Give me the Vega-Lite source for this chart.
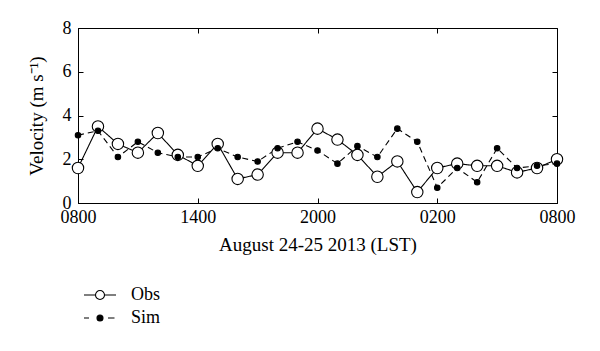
{
  "$schema": "https://vega.github.io/schema/vega-lite/v6.json",
  "autosize": {"type": "none"},
  "padding": {"left": 78, "top": 28, "right": 43, "bottom": 148},
  "width": 479,
  "height": 175,
  "background": "white",
  "config": {
    "view": {"stroke": "black", "strokeWidth": 1},
    "font": "Liberation Serif",
    "axis": {
      "grid": false,
      "domainColor": "black",
      "tickColor": "black",
      "tickSize": -5,
      "labelColor": "black",
      "titleColor": "black",
      "labelFont": "Liberation Serif",
      "titleFont": "Liberation Serif",
      "labelFontSize": 18,
      "titleFontSize": 19,
      "titleFontWeight": "normal"
    },
    "legend": {
      "labelFont": "Liberation Serif",
      "labelFontSize": 18,
      "labelColor": "black"
    }
  },
  "data": {
    "values": [
      {"h": 0, "series": "Obs", "v": 1.6}, {"h": 1, "series": "Obs", "v": 3.5}, {"h": 2, "series": "Obs", "v": 2.7},
      {"h": 3, "series": "Obs", "v": 2.3}, {"h": 4, "series": "Obs", "v": 3.2}, {"h": 5, "series": "Obs", "v": 2.2},
      {"h": 6, "series": "Obs", "v": 1.7}, {"h": 7, "series": "Obs", "v": 2.7}, {"h": 8, "series": "Obs", "v": 1.1},
      {"h": 9, "series": "Obs", "v": 1.3}, {"h": 10, "series": "Obs", "v": 2.3}, {"h": 11, "series": "Obs", "v": 2.3},
      {"h": 12, "series": "Obs", "v": 3.4}, {"h": 13, "series": "Obs", "v": 2.9}, {"h": 14, "series": "Obs", "v": 2.2},
      {"h": 15, "series": "Obs", "v": 1.2}, {"h": 16, "series": "Obs", "v": 1.9}, {"h": 17, "series": "Obs", "v": 0.5},
      {"h": 18, "series": "Obs", "v": 1.6}, {"h": 19, "series": "Obs", "v": 1.8}, {"h": 20, "series": "Obs", "v": 1.7},
      {"h": 21, "series": "Obs", "v": 1.7}, {"h": 22, "series": "Obs", "v": 1.4}, {"h": 23, "series": "Obs", "v": 1.6},
      {"h": 24, "series": "Obs", "v": 2.0},
      {"h": 0, "series": "Sim", "v": 3.1}, {"h": 1, "series": "Sim", "v": 3.3}, {"h": 2, "series": "Sim", "v": 2.1},
      {"h": 3, "series": "Sim", "v": 2.8}, {"h": 4, "series": "Sim", "v": 2.3}, {"h": 5, "series": "Sim", "v": 2.1},
      {"h": 6, "series": "Sim", "v": 2.1}, {"h": 7, "series": "Sim", "v": 2.5}, {"h": 8, "series": "Sim", "v": 2.1},
      {"h": 9, "series": "Sim", "v": 1.9}, {"h": 10, "series": "Sim", "v": 2.5}, {"h": 11, "series": "Sim", "v": 2.8},
      {"h": 12, "series": "Sim", "v": 2.4}, {"h": 13, "series": "Sim", "v": 1.8}, {"h": 14, "series": "Sim", "v": 2.6},
      {"h": 15, "series": "Sim", "v": 2.1}, {"h": 16, "series": "Sim", "v": 3.4}, {"h": 17, "series": "Sim", "v": 2.8},
      {"h": 18, "series": "Sim", "v": 0.7}, {"h": 19, "series": "Sim", "v": 1.6}, {"h": 20, "series": "Sim", "v": 0.95},
      {"h": 21, "series": "Sim", "v": 2.5}, {"h": 22, "series": "Sim", "v": 1.6}, {"h": 23, "series": "Sim", "v": 1.7},
      {"h": 24, "series": "Sim", "v": 1.8}
    ]
  },
  "layer": [
    {
      "mark": {"type": "line", "color": "black", "strokeWidth": 1.1},
      "encoding": {
        "x": {
          "field": "h", "type": "quantitative",
          "scale": {"domain": [0, 24], "nice": false},
          "axis": {
            "values": [0, 6, 12, 18, 24],
            "labelExpr": "['0800','1400','2000','0200','0800'][datum.value / 6]",
            "title": "August 24-25 2013 (LST)",
            "titlePadding": 9,
            "labelPadding": 10,
            "labelFlush": false
          }
        },
        "y": {
          "field": "v", "type": "quantitative",
          "scale": {"domain": [0, 8], "nice": false},
          "axis": {
            "values": [0, 2, 4, 6, 8],
            "title": "Velocity (m s⁻¹)",
            "titlePadding": 16,
            "labelPadding": 12
          }
        },
        "detail": {"field": "series", "type": "nominal"},
        "strokeDash": {
          "condition": {"test": "datum.series === 'Sim'", "value": [6, 4]},
          "value": [1, 0]
        }
      }
    },
    {
      "mark": {"type": "point", "shape": "circle", "filled": true, "stroke": "black", "strokeWidth": 1.1, "opacity": 1},
      "encoding": {
        "x": {
          "field": "h", "type": "quantitative",
          "axis": {"orient": "top", "values": [0, 6, 12, 18, 24], "labels": false, "title": null, "domain": false}
        },
        "y": {
          "field": "v", "type": "quantitative",
          "axis": {"orient": "right", "values": [0, 2, 4, 6, 8], "labels": false, "title": null, "domain": false}
        },
        "fill": {
          "condition": {"test": "datum.series === 'Obs'", "value": "white"},
          "value": "black"
        },
        "size": {
          "condition": {"test": "datum.series === 'Obs'", "value": 130},
          "value": 30
        }
      }
    },
    {
      "transform": [{"filter": "datum.h < 0"}],
      "mark": {"type": "point", "filled": true, "stroke": "black", "strokeWidth": 1.1, "opacity": 1},
      "encoding": {
        "x": {"field": "h", "type": "quantitative", "axis": null},
        "y": {"field": "v", "type": "quantitative", "axis": null},
        "shape": {
          "field": "series", "type": "nominal",
          "scale": {
            "domain": ["Obs", "Sim"],
            "range": [
              "M-1.6,0H-0.45M0.45,0H1.6M-0.45,0A0.45,0.45,0,1,0,0.45,0A0.45,0.45,0,1,0,-0.45,0Z",
              "M-1.6,0H-1.1M0.8,0H1.45M-0.3,0A0.3,0.3,0,1,0,0.3,0A0.3,0.3,0,1,0,-0.3,0Z"
            ]
          },
          "legend": {
            "title": null,
            "orient": "none",
            "legendX": 11,
            "legendY": 256,
            "padding": 0,
            "rowPadding": 3,
            "labelOffset": 20,
            "symbolSize": 400,
            "symbolStrokeWidth": 1.1,
            "symbolOpacity": 1
          }
        },
        "fill": {
          "field": "series", "type": "nominal",
          "scale": {"domain": ["Obs", "Sim"], "range": ["white", "black"]},
          "legend": {
            "title": null,
            "orient": "none",
            "legendX": 11,
            "legendY": 256,
            "padding": 0,
            "rowPadding": 3,
            "labelOffset": 20,
            "symbolSize": 400,
            "symbolStrokeWidth": 1.1,
            "symbolOpacity": 1
          }
        }
      }
    }
  ],
  "resolve": {"axis": {"x": "independent", "y": "independent"}}
}
